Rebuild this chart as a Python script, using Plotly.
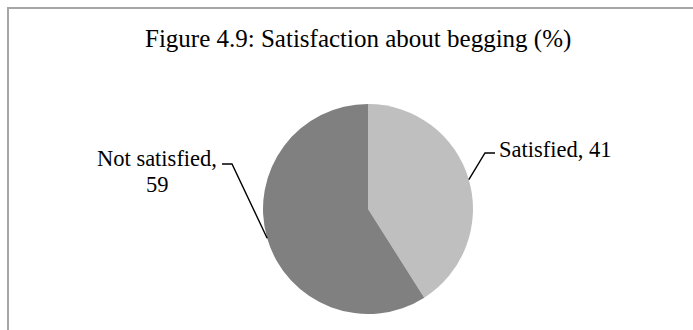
import math
import plotly.graph_objects as go

# Survey shares (%)
categories = ["Satisfied", "Not satisfied"]
values = [41, 59]
colors = ["#BFBFBF", "#808080"]

W, H = 693, 330
cx, cy, r = 368, 209, 105  # pie centre and radius in pixels
SERIF = "Liberation Serif, Times New Roman, serif"


def px(x):
    return x / W


def py(y):
    return 1 - y / H


fig = go.Figure(
    go.Pie(
        labels=categories,
        values=values,
        marker=dict(colors=colors, line=dict(width=0)),
        sort=False,
        direction="clockwise",
        rotation=0,
        textinfo="none",
        hoverinfo="label+value",
        domain=dict(x=[px(cx - r), px(cx + r)], y=[py(cy + r), py(cy - r)]),
        showlegend=False,
    )
)

# Mid-angle of each slice (clockwise from 12 o'clock)
total = sum(values)
cum = 0
mids = []
for v in values:
    mids.append((cum + v / 2) / total * 2 * math.pi)
    cum += v


def rim(angle):
    return cx + r * math.sin(angle), cy - r * math.cos(angle)


def text_at(x, baseline, text, anchor, size=22.5):
    # place a single text line by its baseline
    fig.add_annotation(x=px(x), y=py(baseline - 0.3 * size), xref="paper", yref="paper",
                       text=text, showarrow=False, xanchor=anchor, yanchor="middle",
                       font=dict(family=SERIF, size=size, color="#000000"))


leader = dict(color="black", width=1.4)

# Satisfied label (right side)
sx, sy = rim(mids[0])
ex, ey = 485, 153
fig.add_shape(type="path", xref="paper", yref="paper",
              path=f"M {px(sx)} {py(sy)} L {px(ex)} {py(ey)} L {px(ex + 10)} {py(ey)}",
              line=leader)
text_at(ex + 12, 156, f"{categories[0]}, {values[0]}", "left")

# Not satisfied label (left side, two lines)
sx, sy = rim(mids[1])
ex, ey = 232, 164
fig.add_shape(type="path", xref="paper", yref="paper",
              path=f"M {px(sx)} {py(sy)} L {px(ex)} {py(ey)} L {px(ex - 10)} {py(ey)}",
              line=leader)
text_at(157, 165, f"{categories[1]},", "center")
text_at(157, 191, f"{values[1]}", "center")

# Chart title
text_at(358, 46, "Figure 4.9: Satisfaction about begging (%)", "center", size=25)

# Chart area frame (top and left edges visible)
fig.add_shape(type="path", xref="paper", yref="paper",
              path=f"M {px(8)} {py(H + 5)} L {px(8)} {py(8)} L {px(W + 5)} {py(8)}",
              line=dict(color="#A6A6A6", width=2))

fig.update_layout(
    width=W, height=H,
    margin=dict(l=0, r=0, t=0, b=0),
    paper_bgcolor="white",
    plot_bgcolor="white",
)

fig.write_html("out.html")
